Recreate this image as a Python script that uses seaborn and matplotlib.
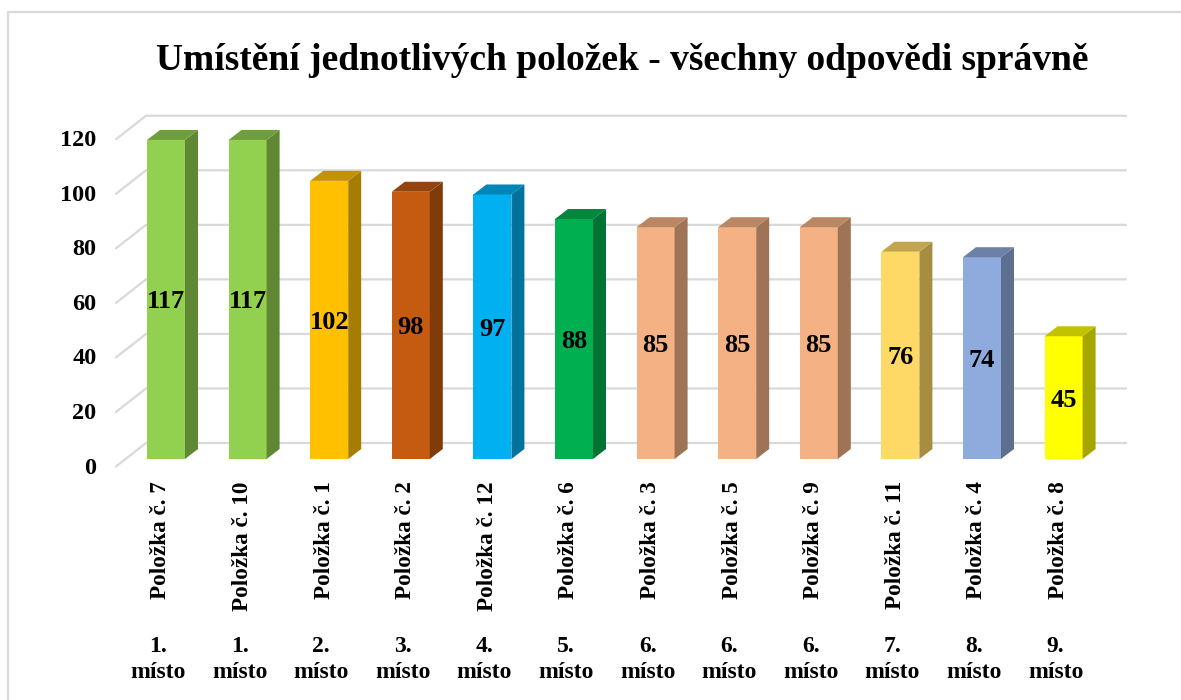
import matplotlib
matplotlib.use('Agg')
import matplotlib.pyplot as plt
import matplotlib.colors as mcolors
from matplotlib.patches import Polygon
from matplotlib.lines import Line2D
from matplotlib.transforms import ScaledTranslation
import seaborn as sns
import pandas as pd

items = ['Položka č. 7', 'Položka č. 10', 'Položka č. 1', 'Položka č. 2', 'Položka č. 12', 'Položka č. 6',
         'Položka č. 3', 'Položka č. 5', 'Položka č. 9', 'Položka č. 11', 'Položka č. 4', 'Položka č. 8']
values = [117, 117, 102, 98, 97, 88, 85, 85, 85, 76, 74, 45]
ranks = ['1.', '1.', '2.', '3.', '4.', '5.', '6.', '6.', '6.', '7.', '8.', '9.']
colors = ['#92D050', '#92D050', '#FFC000', '#C55A11', '#00B0F0', '#00B050',
          '#F4B183', '#F4B183', '#F4B183', '#FFD966', '#8FAADC', '#FFFF00']
y_ticks = [0, 20, 40, 60, 80, 100, 120]

sns.set_theme(style='white')
plt.rcParams['font.family'] = ['Liberation Serif', 'DejaVu Serif']
plt.rcParams['font.weight'] = 'bold'

W, H = 1181, 700
PX_X = 81.6   # pixels per category
PX_Y = 2.727  # pixels per value unit

fig = plt.figure(figsize=(W / 100, H / 100), dpi=100)
ax = fig.add_axes([116 / W, (H - 459) / H, 1010 / W, 344 / H])

df = pd.DataFrame({'item': items, 'value': values})
sns.barplot(data=df, x='item', y='value', hue='item', palette=colors, legend=False,
            width=38 / PX_X, saturation=1, linewidth=0, ax=ax, zorder=3)
ax.set_xlim(-50 / PX_X, 960 / PX_X)
ax.set_ylim(0, 344 / PX_Y)
ax.set_xlabel('')
ax.set_ylabel('')
sns.despine(ax=ax, left=True, bottom=True)

# grid on the back wall and the floor/side wall going to the front
back_dy = 16 / PX_Y
front_dy = -7.5 / PX_Y
wall_x = 30 / PX_X
x0 = ax.get_xlim()[0]
x1 = ax.get_xlim()[1]
for v in y_ticks:
    ax.plot([x0, x0 + wall_x, x1], [v + front_dy, v + back_dy, v + back_dy],
            color='#D9D9D9', lw=1.6, clip_on=False, zorder=1, solid_joinstyle='miter')

# side and top faces of the bars
dx = 13 / PX_X
dy = 10 / PX_Y
for bar, col in zip(ax.patches, colors):
    left = bar.get_x()
    right = left + bar.get_width()
    top = bar.get_height()
    rgb = mcolors.to_rgb(col)
    side = tuple(c * 0.65 for c in rgb)
    roof = tuple(c * 0.76 for c in rgb)
    ax.add_patch(Polygon([(right, 0), (right + dx, dy), (right + dx, top + dy), (right, top)],
                         facecolor=side, edgecolor='none', zorder=3, clip_on=False))
    ax.add_patch(Polygon([(left, top), (left + dx, top + dy), (right + dx, top + dy), (right, top)],
                         facecolor=roof, edgecolor='none', zorder=3, clip_on=False))
    ax.text(left + bar.get_width() / 2, top / 2, f'{int(top)}', ha='center', va='center_baseline',
            fontsize=19, fontweight='bold', color='black', zorder=4)

# tick labels
ax.set_yticks(y_ticks)
ax.set_yticklabels([str(v) for v in y_ticks], fontsize=17.5, fontweight='bold', color='black')
ax.tick_params(axis='y', length=0, pad=14)
shift = ScaledTranslation(0, -6.5 / 100, fig.dpi_scale_trans)
for lab in ax.get_yticklabels():
    lab.set_transform(lab.get_transform() + shift)

ax.set_xticks(range(len(items)))
ax.set_xticklabels(items, rotation=90, fontsize=16.7, fontweight='bold', color='black')
ax.tick_params(axis='x', length=0, pad=16)
shift_x = ScaledTranslation(-5 / 100, 0, fig.dpi_scale_trans)
for lab in ax.get_xticklabels():
    lab.set_transform(lab.get_transform() + shift_x)

# rank under each item
shift_rank = ScaledTranslation(-8 / 100, 0, fig.dpi_scale_trans)
trans = ax.get_xaxis_transform() + shift_rank
for i, r in enumerate(ranks):
    ax.text(i, -(659.5 - 459) / 344, f'{r}\nmísto', transform=trans, ha='center', va='center',
            fontsize=17, fontweight='bold', color='black', linespacing=1.35, clip_on=False)

fig.text(622 / W, (H - 60) / H, 'Umístění jednotlivých položek - všechny odpovědi správně',
         ha='center', va='center', fontsize=27, fontweight='bold', color='black')

# outer chart frame
fig.add_artist(Line2D([8 / W, 8 / W, 1], [0, (H - 12) / H, (H - 12) / H], color='#D9D9D9', lw=1.6))

fig.savefig('out.png', dpi=100)
